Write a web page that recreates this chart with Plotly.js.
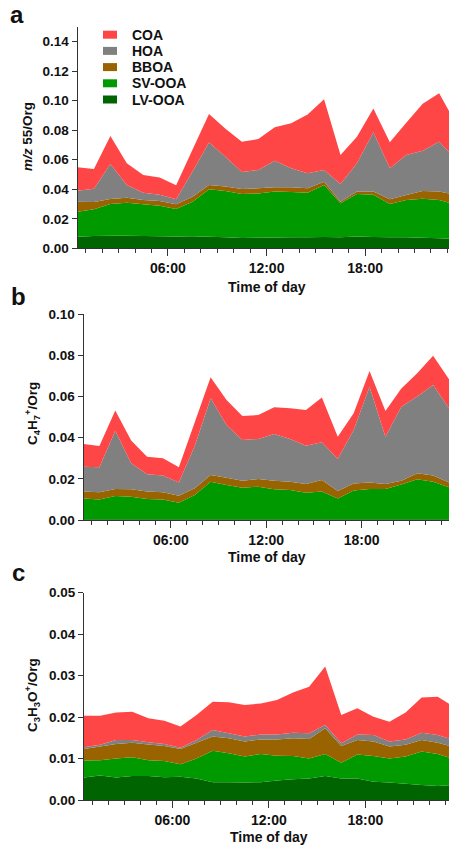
<!DOCTYPE html>
<html>
<head>
<meta charset="utf-8">
<script src="https://cdn.plot.ly/plotly-3.0.1.min.js"></script>
<style>html,body{margin:0;padding:0;background:#fff;}#chart{width:449px;height:846px;}</style>
</head>
<body>
<div id="chart"></div>
<script>
// Hour of day (half-hour centred bins)
const hours = [0.5,1.5,2.5,3.5,4.5,5.5,6.5,7.5,8.5,9.5,10.5,11.5,12.5,13.5,14.5,15.5,16.5,17.5,18.5,19.5,20.5,21.5,22.5,23.5];
const factors = ["LV-OOA","SV-OOA","BBOA","HOA","COA"];
const legendOrder = ["COA","HOA","BBOA","SV-OOA","LV-OOA"];
const colors = {"COA":"rgb(255,70,70)","HOA":"rgb(128,128,128)","BBOA":"rgb(153,100,0)","SV-OOA":"rgb(0,153,0)","LV-OOA":"rgb(0,100,0)"};
const xTickVals = [6,12,18];
const xTickText = ["06:00","12:00","18:00"];

// Panel a: m/z 55 / Org contributions
const a_LV  = [0.0078,0.0083,0.0085,0.0085,0.0083,0.0082,0.0080,0.0082,0.0078,0.0075,0.0070,0.0072,0.0073,0.0075,0.0075,0.0076,0.0075,0.0080,0.0077,0.0075,0.0075,0.0072,0.0068,0.0062];
const a_SV  = [0.0170,0.0181,0.0215,0.0224,0.0215,0.0207,0.0186,0.0234,0.0322,0.0313,0.0298,0.0300,0.0311,0.0306,0.0302,0.0353,0.0230,0.0288,0.0286,0.0225,0.0252,0.0264,0.0259,0.0233];
const a_BB  = [0.0068,0.0050,0.0034,0.0034,0.0029,0.0031,0.0032,0.0034,0.0029,0.0030,0.0034,0.0034,0.0029,0.0032,0.0029,0.0022,0.0011,0.0016,0.0021,0.0032,0.0034,0.0052,0.0057,0.0068];
const a_HOA = [0.0074,0.0090,0.0237,0.0086,0.0050,0.0043,0.0034,0.0170,0.0287,0.0202,0.0115,0.0124,0.0181,0.0129,0.0102,0.0079,0.0120,0.0192,0.0402,0.0210,0.0271,0.0273,0.0338,0.0242];
const a_COA = [0.0159,0.0133,0.0189,0.0147,0.0120,0.0117,0.0095,0.0150,0.0194,0.0190,0.0205,0.0210,0.0226,0.0305,0.0399,0.0480,0.0196,0.0180,0.0162,0.0176,0.0218,0.0319,0.0328,0.0245];

// Panel b: C4H7+ / Org contributions
const b_LV  = [0.0004,0.0004,0.0004,0.0004,0.0004,0.0004,0.0004,0.0004,0.0004,0.0004,0.0004,0.0004,0.0004,0.0004,0.0004,0.0004,0.0004,0.0004,0.0004,0.0004,0.0004,0.0004,0.0004,0.0004];
const b_SV  = [0.0101,0.0096,0.0113,0.0109,0.0098,0.0096,0.0080,0.0118,0.0182,0.0166,0.0153,0.0158,0.0145,0.0142,0.0129,0.0134,0.0101,0.0139,0.0147,0.0147,0.0169,0.0194,0.0182,0.0155];
const b_BB  = [0.0033,0.0035,0.0034,0.0036,0.0036,0.0035,0.0034,0.0032,0.0033,0.0036,0.0034,0.0037,0.0042,0.0040,0.0042,0.0056,0.0036,0.0035,0.0031,0.0024,0.0018,0.0029,0.0030,0.0023];
const b_HOA = [0.0121,0.0121,0.0283,0.0127,0.0084,0.0081,0.0064,0.0206,0.0373,0.0256,0.0198,0.0195,0.0227,0.0208,0.0186,0.0184,0.0156,0.0260,0.0466,0.0230,0.0360,0.0373,0.0440,0.0361];
const b_COA = [0.0111,0.0104,0.0098,0.0110,0.0086,0.0084,0.0074,0.0115,0.0102,0.0121,0.0117,0.0116,0.0130,0.0149,0.0174,0.0217,0.0108,0.0081,0.0076,0.0125,0.0088,0.0113,0.0143,0.0141];

// Panel c: C3H3O+ / Org contributions
const c_LV  = [0.0054,0.0059,0.0054,0.0058,0.0058,0.0055,0.0056,0.0052,0.0043,0.0043,0.0042,0.0043,0.0047,0.0050,0.0052,0.0058,0.0052,0.0052,0.0044,0.0042,0.0039,0.0036,0.0034,0.0036];
const c_SV  = [0.0041,0.0037,0.0046,0.0045,0.0038,0.0039,0.0030,0.0048,0.0076,0.0070,0.0063,0.0068,0.0060,0.0056,0.0048,0.0053,0.0038,0.0058,0.0062,0.0058,0.0066,0.0081,0.0077,0.0063];
const c_BB  = [0.0028,0.0033,0.0035,0.0035,0.0038,0.0036,0.0037,0.0038,0.0034,0.0036,0.0036,0.0035,0.0039,0.0043,0.0047,0.0062,0.0040,0.0035,0.0035,0.0029,0.0028,0.0028,0.0027,0.0029];
const c_HOA = [0.0004,0.0004,0.0010,0.0007,0.0005,0.0005,0.0003,0.0007,0.0016,0.0012,0.0012,0.0012,0.0012,0.0013,0.0014,0.0008,0.0007,0.0013,0.0016,0.0012,0.0013,0.0017,0.0019,0.0017];
const c_COA = [0.0076,0.0070,0.0066,0.0068,0.0058,0.0056,0.0051,0.0060,0.0068,0.0075,0.0076,0.0075,0.0083,0.0097,0.0112,0.0141,0.0068,0.0063,0.0044,0.0048,0.0065,0.0085,0.0092,0.0080];

const panels = [
  {x:"x",  y:"y",  data:[a_LV,a_SV,a_BB,a_HOA,a_COA]},
  {x:"x2", y:"y2", data:[b_LV,b_SV,b_BB,b_HOA,b_COA]},
  {x:"x3", y:"y3", data:[c_LV,c_SV,c_BB,c_HOA,c_COA]}
];

const traces = [];
panels.forEach((p, pi) => {
  factors.forEach((f, fi) => {
    traces.push({
      type:"scatter", mode:"none", x:hours, y:p.data[fi],
      xaxis:p.x, yaxis:p.y, stackgroup:"s"+pi,
      fill: fi===0 ? "tozeroy" : "tonexty",
      fillcolor:colors[f], line:{width:0, color:colors[f]},
      name:f, showlegend:false, hoverinfo:"skip"
    });
  });
});

const FONT = "Liberation Sans, Arial, sans-serif";
const W = 449, H = 846;
const px = v => v / W;
const py = v => 1 - v / H;

function xaxis(domainLeft, rangeEnd, anchor) {
  return {
    domain:[px(domainLeft), 1], range:[0.5, rangeEnd], anchor:anchor,
    tickmode:"array", tickvals:xTickVals, ticktext:xTickText,
    ticks:"outside", ticklen:7, tickwidth:1, tickcolor:"#333",
    minor:{tickmode:"linear", tick0:0, dtick:1, ticks:"outside", ticklen:4, tickcolor:"#333", tickwidth:1, showgrid:false},
    showline:true, linecolor:"#333", linewidth:1, showgrid:false, zeroline:false,
    tickfont:{family:FONT, size:14, color:"#111", weight:"bold"}
  };
}
function yaxis(top, bottom, rmax, dtick, anchor) {
  return {
    domain:[py(bottom), py(top)], range:[0, rmax], anchor:anchor,
    tickmode:"linear", tick0:0, dtick:dtick, tickformat:".2f",
    ticks:"outside", ticklen:5, tickwidth:1, tickcolor:"#333",
    showline:true, linecolor:"#333", linewidth:1, showgrid:false, zeroline:false,
    tickfont:{family:FONT, size:13.5, color:"#111", weight:"bold"}
  };
}

const ann = (text, x, y, size, extra) => Object.assign({
  text:text, x:px(x), y:py(y), xref:"paper", yref:"paper",
  xanchor:"center", yanchor:"middle", showarrow:false,
  font:{family:FONT, size:size, color:"#111", weight:"bold"}
}, extra || {});

// Legend (panel a, top-left): swatch + label per factor
const legendTop = 34.7, legendStep = 16.2;
const shapes = [];
const annotations = [
  ann("a", 17, 15, 24),
  ann("b", 18, 296, 24),
  ann("c", 18, 572, 24),
  ann("<i>m/z</i> 55/Org", 27, 137, 13.5, {textangle:-90}),
  ann("C<sub>4</sub>H<sub>7</sub><sup>+</sup>/Org", 32, 414, 13.5, {textangle:-90}),
  ann("C<sub>3</sub>H<sub>3</sub>O<sup>+</sup>/Org", 32, 695, 13.5, {textangle:-90}),
  ann("Time of day", 267, 287, 14),
  ann("Time of day", 267, 557, 14),
  ann("Time of day", 269, 837, 14)
];
legendOrder.forEach((f, i) => {
  const cy = legendTop + i * legendStep;
  shapes.push({type:"rect", xref:"paper", yref:"paper",
    x0:px(103), x1:px(117), y0:py(cy + 4), y1:py(cy - 4),
    fillcolor:colors[f], line:{width:0}});
  annotations.push(ann(f, 130, cy, 14, {xanchor:"left"}));
});

const layout = {
  width:W, height:H, margin:{l:0, r:0, t:0, b:0},
  paper_bgcolor:"#fff", plot_bgcolor:"#fff",
  showlegend:false,
  xaxis: xaxis(77.5, 23.1, "y"),
  yaxis: yaxis(26.9, 248.3, 0.15, 0.02, "x"),
  xaxis2: xaxis(83.5, 23.5, "y2"),
  yaxis2: yaxis(314.3, 520, 0.10, 0.02, "x2"),
  xaxis3: xaxis(84, 23.2, "y3"),
  yaxis3: yaxis(592.7, 800, 0.05, 0.01, "x3"),
  shapes: shapes,
  annotations: annotations
};

Plotly.newPlot("chart", traces, layout, {displayModeBar:false, staticPlot:true});
</script>
</body>
</html>
